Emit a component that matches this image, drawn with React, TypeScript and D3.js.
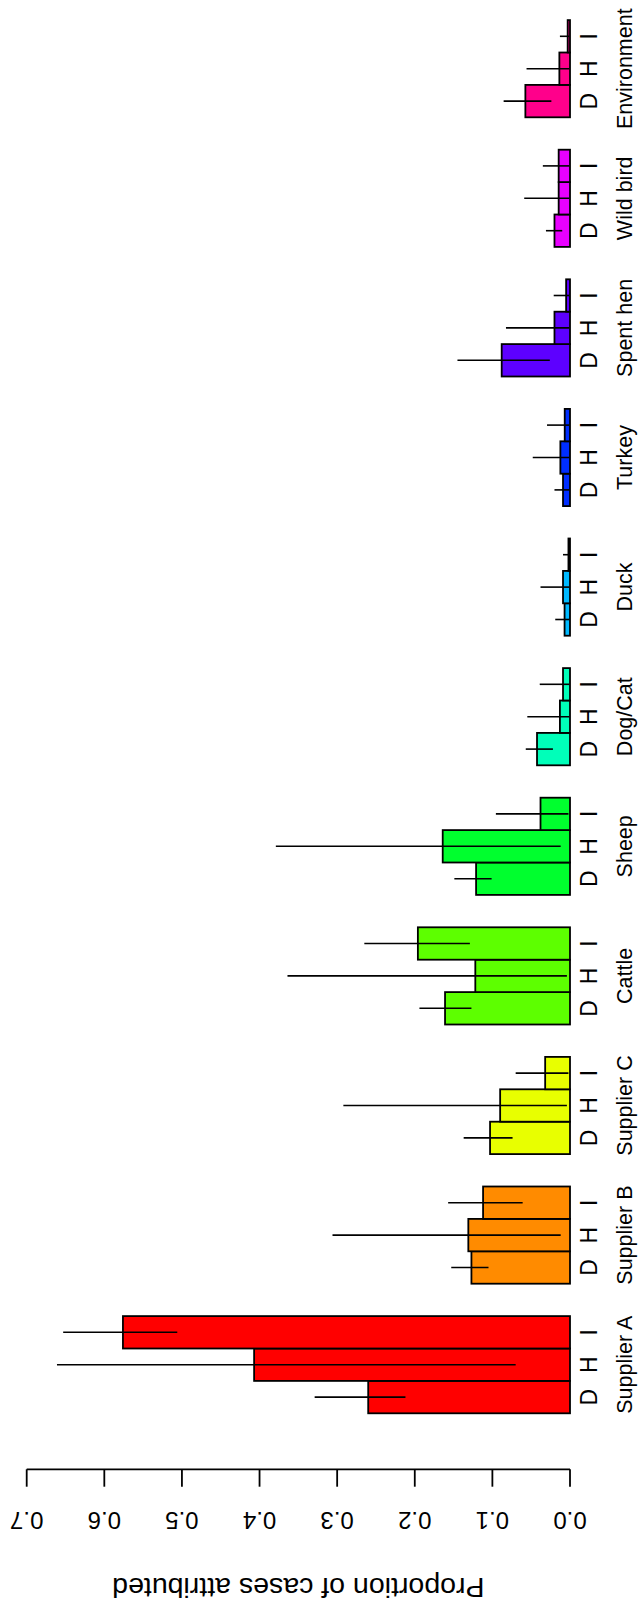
import * as d3 from "d3"
import { useEffect, useRef } from "react"

// source groups, model letters and estimates
const categories = ["Supplier A", "Supplier B", "Supplier C", "Cattle", "Sheep", "Dog/Cat", "Duck", "Turkey", "Spent hen", "Wild bird", "Environment"]
const models = ["D", "H", "I"]
const colors = ["#FF0000", "#FF8B00", "#E8FF00", "#5DFF00", "#00FF2E", "#00FFB9", "#00B9FF", "#002EFF", "#5D00FF", "#E800FF", "#FF008B"]

// proportion attributed, one row per category, columns D H I
const values = [
	[0.260, 0.407, 0.576],
	[0.127, 0.131, 0.112],
	[0.103, 0.090, 0.032],
	[0.161, 0.122, 0.196],
	[0.121, 0.164, 0.038],
	[0.0425, 0.013, 0.009],
	[0.007, 0.009, 0.002],
	[0.009, 0.0124, 0.0068],
	[0.088, 0.020, 0.005],
	[0.020, 0.0146, 0.0146],
	[0.0575, 0.0137, 0.003],
]
const lower = [
	[0.212, 0.070, 0.506],
	[0.105, 0.012, 0.061],
	[0.074, 0.004, 0.002],
	[0.127, 0.004, 0.129],
	[0.101, 0.012, 0.002],
	[0.022, 0.001, 0.001],
	[0.001, 0.001, 0.001],
	[0.001, 0.001, 0.001],
	[0.026, 0.001, 0.001],
	[0.010, 0.001, 0.001],
	[0.024, 0.001, 0.001],
]
const upper = [
	[0.329, 0.661, 0.653],
	[0.153, 0.306, 0.157],
	[0.137, 0.292, 0.070],
	[0.194, 0.364, 0.265],
	[0.149, 0.379, 0.0955],
	[0.057, 0.055, 0.039],
	[0.019, 0.038, 0.009],
	[0.020, 0.048, 0.0296],
	[0.145, 0.0825, 0.021],
	[0.031, 0.059, 0.035],
	[0.0855, 0.056, 0.013],
]
const yTicks = [0, 0.1, 0.2, 0.3, 0.4, 0.5, 0.6, 0.7]
const yLabel = "Proportion of cases attributed"

const W = 638
const H = 1609
const font = "'Liberation Sans', Arial, Helvetica, sans-serif"

export default function App() {
	const ref = useRef<SVGSVGElement>(null)

	useEffect(() => {
		document.body.style.margin = "0"
		const svg = d3.select(ref.current)
		svg.selectAll("*").remove()

		// the whole plot is drawn landscape (u across, v down) then turned a quarter turn
		const g = svg.append("g").attr("transform", `translate(0,${H}) rotate(-90)`)

		// barplot units: each bar 1 wide, one unit gap before each group
		const x = d3.scaleLinear().domain([1, 44]).range([195.7, 195.7 + 43 * 32.4])
		const y = d3.scaleLinear().domain([0, 0.7]).range([570, 26.7])

		const bars = categories.flatMap((c, gi) =>
			models.map((m, j) => ({
				cat: c, gi, m, j,
				left: 1 + gi * 4 + j,
				v: values[gi][j], lo: lower[gi][j], hi: upper[gi][j],
			}))
		)

		g.append("g")
			.selectAll("rect")
			.data(bars)
			.enter()
			.append("rect")
			.attr("x", d => x(d.left))
			.attr("width", d => x(d.left + 1) - x(d.left))
			.attr("y", d => y(d.v))
			.attr("height", d => y(0) - y(d.v))
			.attr("fill", d => colors[d.gi])
			.attr("stroke", "black")
			.attr("stroke-width", 1.8)

		// error bars
		g.append("g")
			.selectAll("line")
			.data(bars)
			.enter()
			.append("line")
			.attr("x1", d => x(d.left + 0.5))
			.attr("x2", d => x(d.left + 0.5))
			.attr("y1", d => y(d.lo))
			.attr("y2", d => y(d.hi))
			.attr("stroke", "black")
			.attr("stroke-width", 1.6)

		// D H I letters under each bar
		g.append("g")
			.selectAll("text")
			.data(bars)
			.enter()
			.append("text")
			.attr("x", d => x(d.left + 0.5))
			.attr("y", 596.7)
			.attr("text-anchor", "middle")
			.attr("font-family", font)
			.attr("font-size", 23)
			.text(d => d.m)

		// category names under the middle bar
		g.append("g")
			.selectAll("text")
			.data(categories)
			.enter()
			.append("text")
			.attr("x", (d, i) => x(1 + i * 4 + 1.5))
			.attr("y", 631.7)
			.attr("text-anchor", "middle")
			.attr("font-family", font)
			.attr("font-size", 21.5)
			.text(d => d)

		// value axis
		const axis = g.append("g")
		axis.append("line")
			.attr("x1", 139.7).attr("x2", 139.7)
			.attr("y1", y(0)).attr("y2", y(0.7))
			.attr("stroke", "black").attr("stroke-width", 1.8)
		axis.selectAll("line.tick")
			.data(yTicks)
			.enter()
			.append("line")
			.attr("class", "tick")
			.attr("x1", 139.7).attr("x2", 122.3)
			.attr("y1", d => y(d)).attr("y2", d => y(d))
			.attr("stroke", "black").attr("stroke-width", 1.8)
		axis.selectAll("text")
			.data(yTicks)
			.enter()
			.append("text")
			.attr("transform", d => `translate(97.3,${y(d)}) rotate(-90)`)
			.attr("text-anchor", "middle")
			.attr("font-family", font)
			.attr("font-size", 24)
			.text(d => d3.format(".1f")(d))

		g.append("text")
			.attr("transform", `translate(30.7,${y(0.35)}) rotate(-90)`)
			.attr("text-anchor", "middle")
			.attr("font-family", font)
			.attr("font-size", 28.5)
			.text(yLabel)
	}, [])

	return <svg ref={ref} width={W} height={H} style={{ display: "block", background: "white" }} />
}
